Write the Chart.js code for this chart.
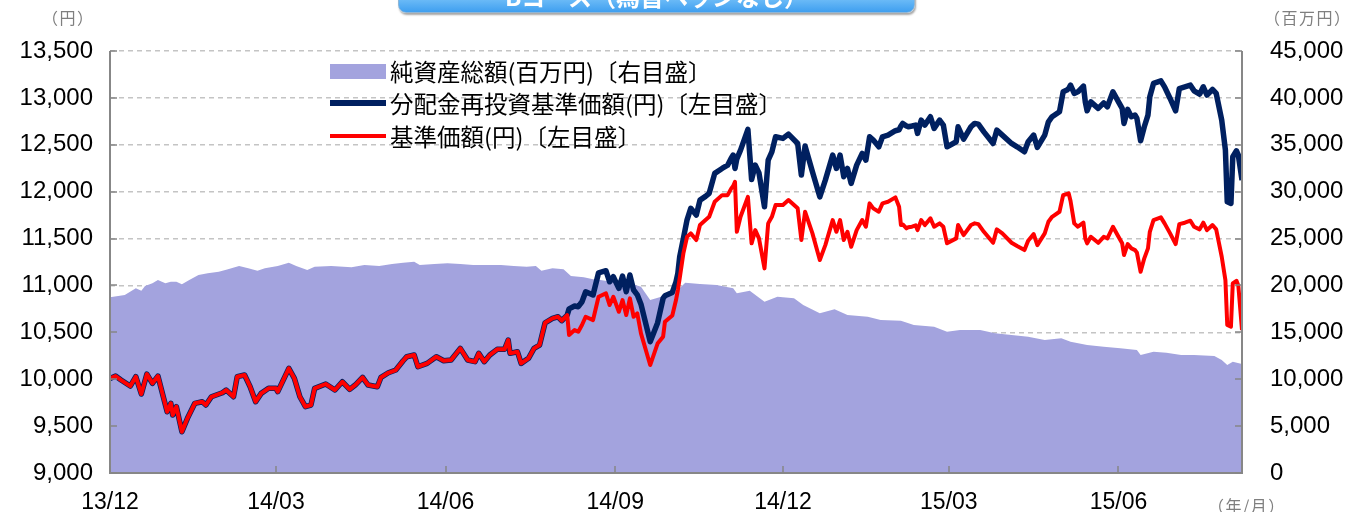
<!DOCTYPE html>
<html>
<head>
<meta charset="utf-8">
<script src="https://cdn.jsdelivr.net/npm/chart.js@4.4.1/dist/chart.umd.min.js"></script>
<style>
  html, body { margin: 0; padding: 0; background: #fff; }
  #wrap { position: relative; width: 1346px; height: 512px; overflow: hidden; }
  #chart { position: absolute; left: 0; top: 0; }
  .title-box {
    position: absolute; left: 398px; top: -22px; width: 515px; height: 33px;
    border-radius: 8px; border: 1px solid #8fb6d6;
    background: linear-gradient(to bottom, #c4e6ff 0%, #74c0f8 55%, #3f9ff0 100%);
    box-shadow: 1px 2px 2px rgba(0,0,0,0.35);
  }
  .title-box span {
    position: absolute; left: 0; right: 0; top: 5px; text-align: center;
    font: bold 24px/24px "Noto Sans CJK JP", sans-serif; color: #fff;
  }
  .unit { position: absolute; font: 16px/18px "Noto Sans CJK JP", sans-serif; color: #7f7f7f;
    white-space: nowrap; letter-spacing: 1.5px; }
  .legend-row { position: absolute; left: 330px; height: 26px; display: flex; align-items: center;
    font: 23.5px/26px "Noto Sans CJK JP", sans-serif; color: #000; white-space: nowrap; }
  .legend-row i { display: inline-block; width: 56px; margin-right: 4px; }
</style>
</head>
<body>
<div id="wrap">
  <canvas id="chart" width="1346" height="512"></canvas>
  <div class="title-box"><span>Bコース（為替ヘッジなし）</span></div>
  <div class="unit" style="left:42px;top:8px">（円）</div>
  <div class="unit" style="left:1264px;top:8px">（百万円）</div>
  <div class="unit" style="left:1208px;top:496px">（年/月）</div>
  <div class="legend-row" style="top:58px"><i style="height:15px;background:#a3a3de"></i>純資産総額(百万円)〔右目盛〕</div>
  <div class="legend-row" style="top:90px"><i style="height:6px;background:#002060"></i>分配金再投資基準価額(円)〔左目盛〕</div>
  <div class="legend-row" style="top:123px"><i style="height:4px;background:#ff0000"></i>基準価額(円)〔左目盛〕</div>
</div>
<script>
// days counted from 2013-12-01
const lineDays = [
  0, 3, 6, 11, 14, 17, 20, 23, 26, 31, 33, 34, 36, 39, 42, 46, 50, 52, 55, 61,
  63, 67, 69, 73, 76, 79, 82, 86, 90, 91, 97, 100, 103, 106, 109, 111, 117, 122, 126, 130,
  133, 137, 140, 145, 147, 151, 155, 159, 161, 165, 167, 172, 177, 181, 185, 190, 194, 198, 200, 203,
  206, 210, 214, 216, 217, 221, 223, 227, 230, 233, 236, 240, 243, 245, 248,
  249, 252, 254, 256, 258, 262, 265, 269, 271, 273, 276, 278, 280, 282, 284, 286, 288, 293, 297, 300,
  301, 305, 307, 308, 309, 311, 313, 315, 318, 320, 323, 325, 328, 332, 335, 337, 338, 339, 340, 342,
  346, 348, 350, 352, 355, 357, 359, 361, 365, 368, 373, 375, 377, 381, 385, 388, 392, 394, 396, 398,
  400, 402, 405, 408, 410, 412, 414, 417, 419, 422, 426, 428, 429, 430, 432, 433, 435, 437, 438, 440,
  442, 445, 447, 450, 452, 454, 459, 460, 463, 467, 469, 471, 474, 479, 481, 484, 489, 492, 496, 498,
  501, 503, 507, 509, 511, 515, 517, 519, 520, 521, 523, 525, 528, 529, 530, 532, 536, 539, 541, 544,
  547, 549, 550, 552, 554, 556, 557, 559, 561, 563, 564, 566, 570, 572, 575, 578, 580, 583, 586, 588,
  591, 593, 595, 598, 600, 603, 605, 606, 608, 609, 611, 612, 614
];

// 基準価額(円)
const priceValues = [
  10009, 10034, 9991, 9927, 10027, 9842, 10055, 9956, 10034, 9653, 9743, 9618, 9707, 9440, 9583, 9743, 9760, 9725, 9813, 9856,
  9885, 9813, 10027, 10045, 9920, 9760, 9849, 9903, 9903, 9867, 10116, 10009, 9813, 9707, 9725, 9903, 9949, 9885, 9973, 9892,
  9938, 10020, 9938, 9920, 10020, 10069, 10098, 10197, 10240, 10258, 10133, 10169, 10240, 10197, 10205, 10329, 10205, 10187, 10276, 10187,
  10258, 10319, 10319, 10418, 10276, 10293, 10169, 10223, 10329, 10364, 10602, 10649, 10666, 10624, 10684,
  10471, 10524, 10506, 10578, 10666, 10631, 10879, 10916, 10791, 10879, 10719, 10844, 10684, 10862, 10666, 10702, 10489, 10151, 10380, 10453,
  10613, 10680, 10844, 10951, 11075, 11342, 11519, 11555, 11484, 11644, 11697, 11732, 11892, 11963, 11963, 12035, 12060, 12105, 11572, 11732,
  11945, 11449, 11590, 11502, 11182, 11662, 11732, 11857, 11857, 11910, 11822, 11484, 11786, 11555, 11271, 11430, 11697, 11572, 11697, 11484,
  11572, 11412, 11590, 11697, 11626, 11875, 11822, 11786, 11875, 11892, 11939, 11839, 11644, 11650, 11609, 11620, 11626, 11640, 11590, 11697,
  11644, 11715, 11626, 11662, 11626, 11449, 11502, 11644, 11537, 11644, 11662, 11654, 11572, 11455, 11598, 11555, 11455, 11420, 11377, 11476,
  11548, 11430, 11555, 11679, 11732, 11786, 11963, 11975, 11982, 11900, 11662, 11626, 11669, 11500, 11449, 11519, 11455, 11519, 11502, 11626,
  11519, 11449, 11324, 11441, 11395, 11377, 11349, 11146, 11289, 11395, 11572, 11697, 11726, 11662, 11555, 11441, 11654, 11669, 11690, 11626,
  11598, 11669, 11590, 11644, 11598, 11306, 11057, 10578, 10560, 11022, 11050, 11000, 10524
];

// 分配金再投資基準価額(円)
const reinvestValues = [
  10009, 10034, 9991, 9927, 10027, 9842, 10055, 9956, 10034, 9653, 9743, 9618, 9707, 9440, 9583, 9743, 9760, 9725, 9813, 9856,
  9885, 9813, 10027, 10045, 9920, 9760, 9849, 9903, 9903, 9867, 10116, 10009, 9813, 9707, 9725, 9903, 9949, 9885, 9973, 9892,
  9938, 10020, 9938, 9920, 10020, 10069, 10098, 10197, 10240, 10258, 10133, 10169, 10240, 10197, 10205, 10329, 10205, 10187, 10276, 10187,
  10258, 10319, 10319, 10418, 10276, 10293, 10169, 10223, 10329, 10364, 10602, 10649, 10666, 10624, 10684,
  10750, 10780, 10773, 10826, 10933, 10898, 11135, 11157, 11039, 11093, 10969, 11100, 10933, 11111, 10951, 10900, 10800, 10400, 10600, 10862,
  10890, 10925, 11039, 11129, 11306, 11500, 11700, 11822, 11750, 11910, 11950, 11982, 12195, 12248, 12283, 12360, 12390, 12248, 12350, 12443,
  12664, 12130, 12283, 12200, 11839, 12336, 12425, 12585, 12568, 12614, 12514, 12177, 12486, 12212, 11945, 12123, 12390, 12248, 12390, 12159,
  12248, 12088, 12283, 12408, 12336, 12585, 12550, 12478, 12585, 12603, 12650, 12660, 12700, 12728, 12700, 12692, 12700, 12710, 12621, 12763,
  12710, 12799, 12675, 12763, 12710, 12478, 12532, 12692, 12560, 12692, 12728, 12720, 12638, 12514, 12656, 12603, 12514, 12478, 12425, 12532,
  12603, 12472, 12603, 12745, 12799, 12852, 13065, 13083, 13100, 13136, 13048, 13065, 13126, 12958, 12862, 12958, 12888, 12947, 12905, 13065,
  12958, 12888, 12728, 12877, 12799, 12817, 12781, 12542, 12692, 12817, 13012, 13154, 13182, 13118, 12994, 12862, 13100, 13118, 13136, 13075,
  13040, 13118, 13030, 13090, 13048, 12763, 12443, 11892, 11875, 12372, 12436, 12390, 12123
];

const assetDays = [
  0, 8, 14, 17, 19, 23, 26, 30, 33, 36, 39, 43, 48, 53, 59, 64, 70, 75, 80, 84,
  91, 97, 101, 107, 111, 120, 131, 138, 146, 153, 159, 165, 168, 176, 183, 190, 197, 204, 212, 219,
  226, 231, 234, 240, 246, 250, 257, 262, 266, 272, 277, 282, 288, 293, 299, 308, 312, 320, 329, 338,
  340, 347, 355, 362, 371, 376, 385, 393, 400, 411, 418, 429, 436, 447, 454, 461, 472, 480, 489, 498,
  507, 516, 521, 530, 539, 548, 557, 559, 566, 573, 581, 588, 599, 603, 606, 609, 614
];

// 純資産総額(百万円)
const assetValues = [
  18730, 18975, 19689, 19433, 19934, 20222, 20574, 20222, 20393, 20393, 20115, 20574, 21107, 21288, 21459, 21715, 22066, 21821, 21565, 21821,
  22066, 22418, 22066, 21640, 21992, 22066, 21928, 22173, 22066, 22280, 22418, 22525, 22173, 22280, 22354, 22280, 22173, 22173, 22173, 22066,
  21992, 22066, 21565, 21821, 21715, 21000, 20862, 20648, 20574, 20393, 20222, 20222, 19860, 18442, 18794, 19508, 20286, 20147, 20041, 19689,
  19156, 19433, 18261, 18794, 18623, 17909, 17024, 17450, 16843, 16662, 16310, 16235, 15777, 15596, 15063, 15244, 15244, 14892, 14711, 14530,
  14178, 14359, 13997, 13645, 13464, 13293, 13112, 12579, 12931, 12824, 12579, 12579, 12472, 12046, 11513, 11865, 11619
];

const xTickDays = [0, 90, 182, 274, 365, 455, 547];
const xTickLabels = ['13/12', '14/03', '14/06', '14/09', '14/12', '15/03', '15/06'];

Chart.defaults.font.family = '"Liberation Sans", Arial, sans-serif';
Chart.defaults.color = '#000';

// frame + inward tick marks drawn on top of the area
const axisFrame = {
  id: 'axisFrame',
  afterDatasetsDraw(chart) {
    const { ctx, chartArea: a, scales } = chart;
    ctx.save();
    ctx.strokeStyle = '#878787';
    ctx.lineWidth = 2;
    ctx.beginPath();
    ctx.moveTo(a.left, a.top);
    ctx.lineTo(a.left, a.bottom);
    ctx.lineTo(a.right, a.bottom);
    ctx.lineTo(a.right, a.top);
    ctx.stroke();
    ctx.lineWidth = 1.5;
    ctx.beginPath();
    scales.y.ticks.forEach(t => {
      const y = Math.round(scales.y.getPixelForValue(t.value));
      ctx.moveTo(a.left, y); ctx.lineTo(a.left + 7, y);
    });
    scales.y1.ticks.forEach(t => {
      const y = Math.round(scales.y1.getPixelForValue(t.value));
      ctx.moveTo(a.right, y); ctx.lineTo(a.right - 7, y);
    });
    scales.x.ticks.forEach(t => {
      const x = Math.round(scales.x.getPixelForValue(t.value));
      ctx.moveTo(x, a.bottom); ctx.lineTo(x, a.bottom - 7);
    });
    ctx.stroke();
    ctx.restore();
  }
};

const toPoints = (days, values) => days.map((d, i) => ({ x: d, y: values[i] }));

new Chart(document.getElementById('chart').getContext('2d'), {
  type: 'line',
  data: {
    datasets: [
      {
        label: '基準価額(円)〔左目盛〕',
        data: toPoints(lineDays, priceValues),
        borderColor: '#ff0000',
        borderWidth: 4,
        pointRadius: 0,
        fill: false,
        borderJoinStyle: 'round',
        yAxisID: 'y'
      },
      {
        label: '分配金再投資基準価額(円)〔左目盛〕',
        data: toPoints(lineDays, reinvestValues),
        borderColor: '#002060',
        borderWidth: 5.5,
        pointRadius: 0,
        fill: false,
        borderJoinStyle: 'round',
        yAxisID: 'y'
      },
      {
        label: '純資産総額(百万円)〔右目盛〕',
        data: toPoints(assetDays, assetValues),
        borderWidth: 0,
        borderColor: 'rgba(0,0,0,0)',
        backgroundColor: '#a3a3de',
        pointRadius: 0,
        fill: 'origin',
        yAxisID: 'y1'
      }
    ]
  },
  options: {
    responsive: false,
    animation: false,
    events: [],
    layout: { padding: { top: 51, left: 0, right: 0, bottom: 0 } },
    plugins: {
      legend: { display: false },
      tooltip: { enabled: false }
    },
    scales: {
      x: {
        type: 'linear',
        min: 0,
        max: 614,
        afterBuildTicks: scale => { scale.ticks = xTickDays.map(v => ({ value: v })); },
        afterFit: scale => { scale.height = 39; },
        grid: { display: false },
        border: { display: false },
        ticks: {
          autoSkip: false,
          maxRotation: 0,
          padding: 8,
          font: { size: 23 },
          callback: value => xTickLabels[xTickDays.indexOf(value)]
        }
      },
      y: {
        position: 'left',
        min: 9000,
        max: 13500,
        afterFit: scale => { scale.width = 110; },
        grid: { color: '#c4c4c4', lineWidth: 1.5, drawTicks: false },
        border: { display: false, dash: [5, 4] },
        ticks: {
          stepSize: 500,
          padding: 17,
          font: { size: 24 },
          callback: v => v.toLocaleString('en-US')
        }
      },
      y1: {
        position: 'right',
        min: 0,
        max: 45000,
        afterFit: scale => { scale.width = 104; },
        grid: { display: false },
        border: { display: false },
        ticks: {
          stepSize: 5000,
          padding: 20,
          font: { size: 24 },
          callback: v => v.toLocaleString('en-US')
        }
      }
    }
  },
  plugins: [axisFrame]
});
</script>
</body>
</html>
